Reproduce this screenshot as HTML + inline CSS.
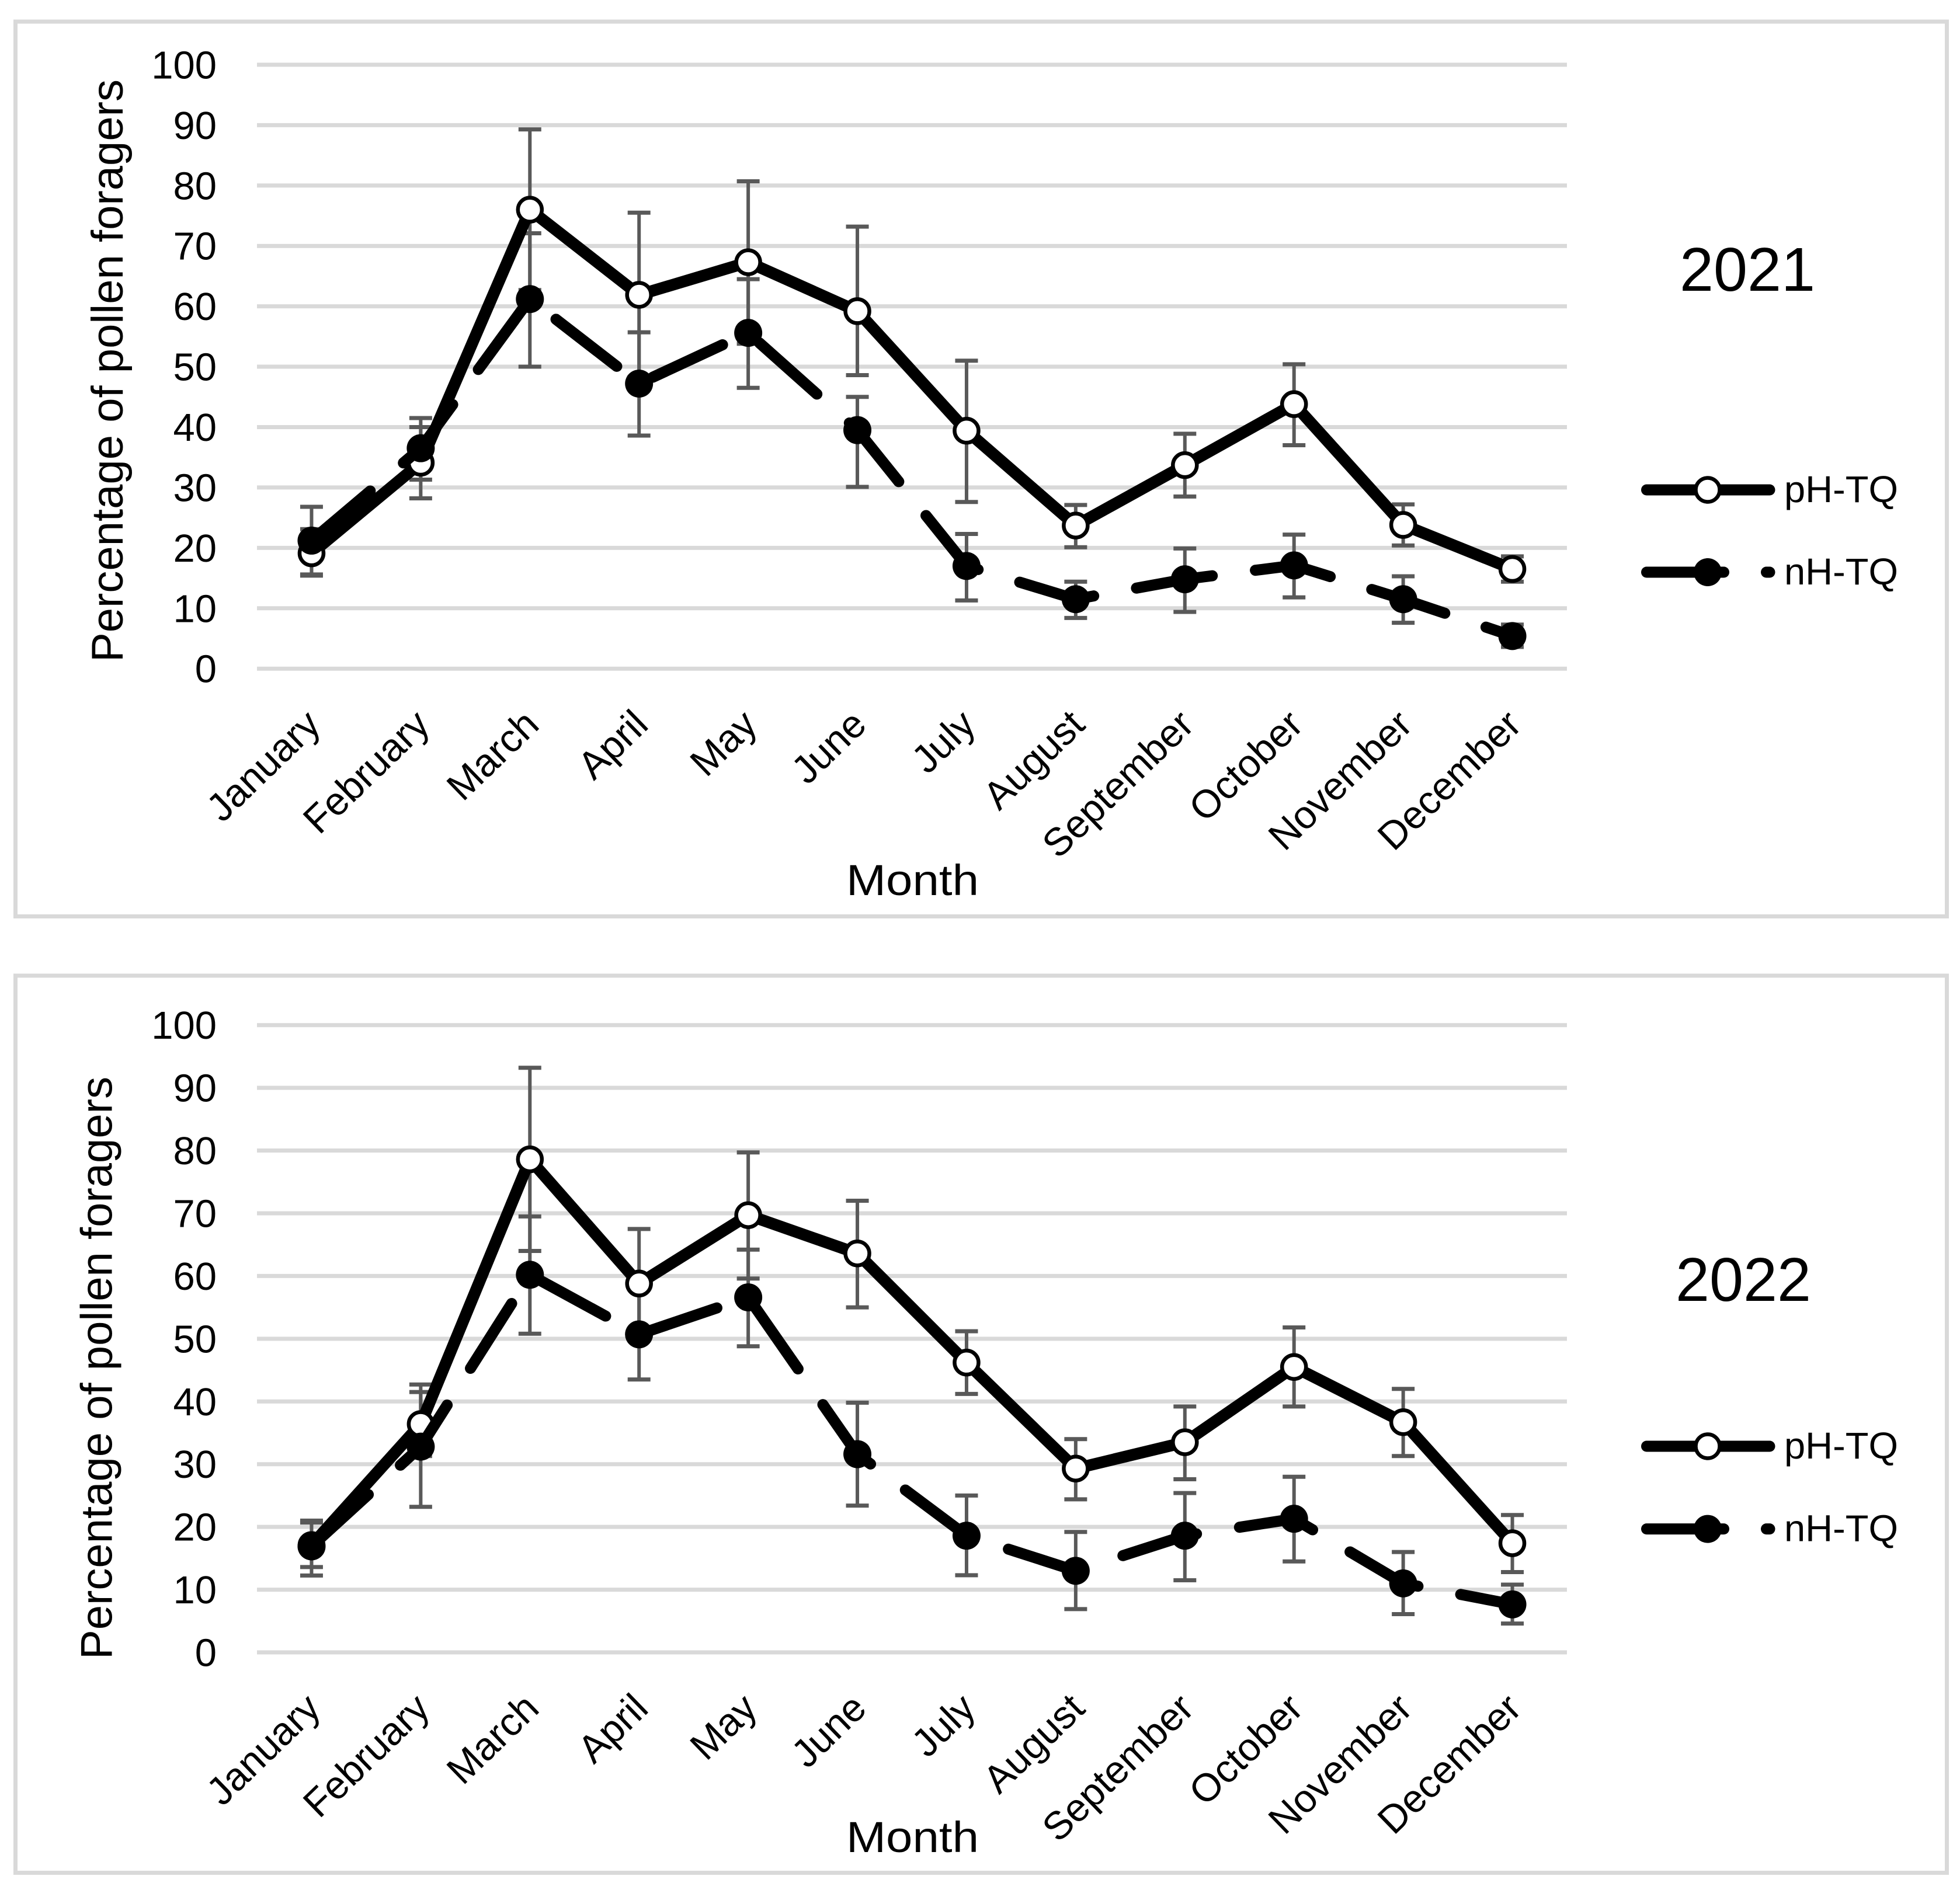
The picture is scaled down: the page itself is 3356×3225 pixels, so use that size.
<!DOCTYPE html>
<html lang="en">
<head>
<meta charset="utf-8">
<title>Percentage of pollen foragers 2021 and 2022</title>
<style>
html,body{margin:0;padding:0;background:#fff;}
svg{display:block;}
text{font-family:"Liberation Sans",Arial,sans-serif;fill:#000;}
</style>
</head>
<body>
<svg id="figure" xmlns="http://www.w3.org/2000/svg" width="3356" height="3225" viewBox="0 0 3356 3225">
  <rect x="0" y="0" width="3356" height="3225" fill="#ffffff"/>
</svg>
<script>
const months = ["January","February","March","April","May","June","July","August","September","October","November","December"];
const yTicks = [0,10,20,30,40,50,60,70,80,90,100];

const ph2021 = [19.1,34.1,76,61.9,67.3,59.2,39.4,23.7,33.7,43.8,23.8,16.5];
const ph2021Upper = [23.1,40,89.3,75.5,80.7,73.2,51,27.1,38.9,50.4,27.2,18.6];
const ph2021Lower = [15.4,28.2,62.7,48.3,53.8,48.6,27.6,20.1,28.5,37,20.4,14.4];
const nh2021 = [21.2,36.5,61.2,47.2,55.6,39.5,17,11.5,14.8,17.1,11.5,5.4];
const nh2021Upper = [26.8,41.5,72.1,55.7,64.5,45,22.3,14.4,19.9,22.2,15.3,7.3];
const nh2021Lower = [15.6,31.3,50,38.6,46.5,30.1,11.3,8.4,9.4,11.8,7.6,3.6];

const ph2022 = [17.1,36.4,78.6,58.8,69.7,63.6,46.2,29.3,33.5,45.5,36.7,17.4];
const ph2022Upper = [20.7,41.5,93.2,67.5,79.7,72,51.2,34,39.2,51.8,42,21.9];
const ph2022Lower = [13.6,31.3,64,50.1,59.6,55,41.2,24.4,27.6,39.2,31.3,12.8];
const nh2022 = [16.9,32.8,60.2,50.7,56.6,31.6,18.6,13,18.6,21.3,11,7.65];
const nh2022Upper = [21,42.7,69.5,57.9,64.2,39.8,25,19.2,25.4,28,16,10.8];
const nh2022Lower = [12.25,23.2,50.8,43.5,48.8,23.4,12.3,6.9,11.5,14.5,6.1,4.6];

const NS = "http://www.w3.org/2000/svg";
const svg = document.getElementById("figure");
const plotLeft = 440, plotRight = 2683;
const GRID = "#d9d9d9", ERR = "#595959";
const DASH = "131.5 74.5";

function make(tag, parent, attrs, txt){
  const el = document.createElementNS(NS, tag);
  for (const k in attrs) el.setAttribute(k, attrs[k]);
  if (txt !== undefined) el.textContent = txt;
  parent.appendChild(el);
  return el;
}
function xAxis(i){ return plotLeft + (i + 0.5) * (plotRight - plotLeft) / months.length; }
function yAxisFor(y0, y100){ return function(v){ return y0 + (y100 - y0) * v / 100; }; }
function linePath(values, y){
  return values.map(function(v, i){ return (i ? "L" : "M") + xAxis(i).toFixed(1) + " " + y(v).toFixed(1); }).join(" ");
}
function drawErrors(parent, seriesName, upper, lower, y){
  months.forEach(function(m, i){
    const x = xAxis(i), yu = y(upper[i]), yl = y(lower[i]);
    const g = make("g", parent, {stroke: ERR, fill: "none"});
    
    
    make("line", g, {x1: x, x2: x, y1: yu, y2: yl, "stroke-width": 6});
    make("line", g, {x1: x - 19.5, x2: x + 19.5, y1: yu, y2: yu, "stroke-width": 7});
    make("line", g, {x1: x - 19.5, x2: x + 19.5, y1: yl, y2: yl, "stroke-width": 7});
  });
}
function drawMarkers(parent, seriesName, values, y, hollow){
  months.forEach(function(m, i){
    const c = make("circle", parent, {cx: xAxis(i), cy: y(values[i]), r: hollow ? 20.5 : 24, fill: hollow ? "#ffffff" : "#000000"});
    if (hollow) { c.setAttribute("stroke", "#000000"); c.setAttribute("stroke-width", 6.5); }
    
    
  });
}
function drawPanel(p){
  const y = yAxisFor(p.y0, p.y100);
  const panel = make("g", svg, {});
  
  

  const frame = make("rect", panel, {x: 26.5, y: p.frameTop, width: 3307, height: p.frameBottom - p.frameTop, fill: "#ffffff", stroke: GRID, "stroke-width": 7});
  
  

  yTicks.forEach(function(t){
    const gl = make("line", panel, {x1: plotLeft, x2: plotRight, y1: y(t), y2: y(t), stroke: GRID, "stroke-width": 7});
    
    
    const lb = make("text", panel, {x: 371, y: y(t) + 23.5, "text-anchor": "end", "font-size": 67}, String(t));
    
    
  });

  months.forEach(function(m, i){
    const px = xAxis(i) + 19, py = p.y0 + 100;
    const lb = make("text", panel, {x: px, y: py, "text-anchor": "end", "font-size": 67, transform: "rotate(-44 " + px + " " + py + ")"}, m);
    
    
  });

  const yTitle = make("text", panel, {x: 0, y: 0, "font-size": 76, textLength: p.titleLen, lengthAdjust: "spacingAndGlyphs", transform: "translate(" + p.titleX + " " + p.titleBottom + ") rotate(-90)"}, "Percentage of pollen foragers");
  
  

  const xTitle = make("text", panel, {x: 1449, y: p.monthBase, "font-size": 74, textLength: 227, lengthAdjust: "spacingAndGlyphs"}, "Month");
  
  

  const yearLabel = make("text", panel, {x: p.yearX, y: p.yearBase, "font-size": 106, textLength: 232, lengthAdjust: "spacingAndGlyphs"}, String(p.year));
  
  

  const errs = make("g", panel, {});
  
  
  drawErrors(errs, "ph-tq", p.phU, p.phL, y);
  drawErrors(errs, "nh-tq", p.nhU, p.nhL, y);

  const phLine = make("path", panel, {d: linePath(p.ph, y), fill: "none", stroke: "#000", "stroke-width": 20, "stroke-linejoin": "round", "stroke-linecap": "round"});
  
  
  const phPts = make("g", panel, {});
  
  
  drawMarkers(phPts, "ph-tq", p.ph, y, true);

  const nhLine = make("path", panel, {d: linePath(p.nh, y), fill: "none", stroke: "#000", "stroke-width": 19, "stroke-linejoin": "round", "stroke-linecap": "round", "stroke-dasharray": DASH});
  
  
  const nhPts = make("g", panel, {});
  
  
  drawMarkers(nhPts, "nh-tq", p.nh, y, false);

  const legend = make("g", panel, {});
  
  

  const e1 = make("g", legend, {});
  
  
  make("line", e1, {x1: 2819.5, x2: 3030, y1: p.legend1, y2: p.legend1, stroke: "#000", "stroke-width": 19, "stroke-linecap": "round"});
  make("circle", e1, {cx: 2924, cy: p.legend1, r: 20.5, fill: "#fff", stroke: "#000", "stroke-width": 6.5});
  make("text", e1, {x: 3055, y: p.legend1 + 21, "font-size": 64, textLength: 195, lengthAdjust: "spacingAndGlyphs"}, "pH-TQ");

  const e2 = make("g", legend, {});
  
  
  make("line", e2, {x1: 2819.5, x2: 3030, y1: p.legend2, y2: p.legend2, stroke: "#000", "stroke-width": 19, "stroke-linecap": "round", "stroke-dasharray": "132 73"});
  make("circle", e2, {cx: 2924, cy: p.legend2, r: 24, fill: "#000"});
  make("text", e2, {x: 3055, y: p.legend2 + 21, "font-size": 64, textLength: 195, lengthAdjust: "spacingAndGlyphs"}, "nH-TQ");
}

drawPanel({year: 2021, y0: 1145.2, y100: 110.9, frameTop: 37, frameBottom: 1569.5, titleX: 210, titleBottom: 1134, titleLen: 998, monthBase: 1533, yearX: 2876, yearBase: 498, legend1: 839, legend2: 980,
  ph: ph2021, phU: ph2021Upper, phL: ph2021Lower, nh: nh2021, nhU: nh2021Upper, nhL: nh2021Lower});
drawPanel({year: 2022, y0: 2830, y100: 1755.7, frameTop: 1671, frameBottom: 3207.5, titleX: 191.5, titleBottom: 2842, titleLen: 998, monthBase: 3172, yearX: 2869, yearBase: 2228, legend1: 2477, legend2: 2618.6,
  ph: ph2022, phU: ph2022Upper, phL: ph2022Lower, nh: nh2022, nhU: nh2022Upper, nhL: nh2022Lower});
</script>
</body>
</html>
